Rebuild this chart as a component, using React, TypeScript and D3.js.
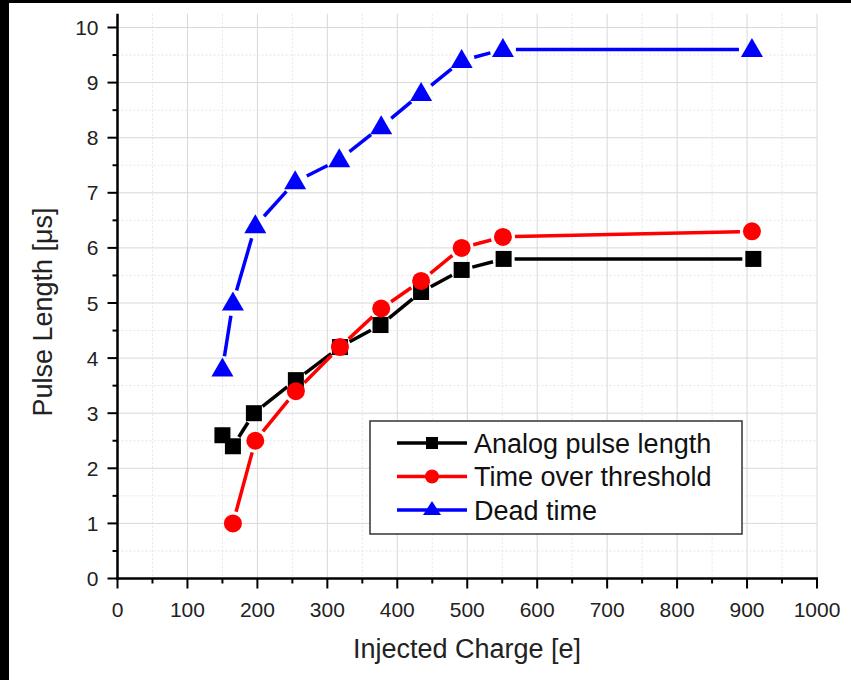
import { useEffect, useRef } from "react";
import * as d3 from "d3";

// data
const analogX = [150, 165, 195, 255, 318, 376, 434, 492, 552, 909];
const analogY = [2.6, 2.4, 3.0, 3.6, 4.2, 4.6, 5.2, 5.6, 5.8, 5.8];

const totX = [165, 197, 255, 318, 377, 434, 492, 551, 907];
const totY = [1.0, 2.5, 3.4, 4.2, 4.9, 5.4, 6.0, 6.2, 6.3];

const deadX = [150, 165, 197, 254, 317, 377, 434, 492, 551, 907];
const deadY = [3.8, 5.0, 6.4, 7.2, 7.6, 8.2, 8.8, 9.4, 9.6, 9.6];

const seriesNames = ["Analog pulse length", "Time over threshold", "Dead time"];
const seriesColors = ["#000000", "#ff0000", "#0000ff"];
const seriesShapes = ["square", "circle", "triangle"];

const xTicks = [0, 100, 200, 300, 400, 500, 600, 700, 800, 900, 1000];
const yTicks = [0, 1, 2, 3, 4, 5, 6, 7, 8, 9, 10];

const FONT = "'Liberation Sans', Arial, sans-serif";

export default function App() {
    const ref = useRef<SVGSVGElement>(null);

    useEffect(() => {
        const svg = d3.select(ref.current);
        svg.selectAll("*").remove();

        const x = d3.scaleLinear().domain([0, 1000]).range([117.5, 817]);
        const y = d3.scaleLinear().domain([0, 10]).range([578.5, 27.5]);
        const yTop = y(10.25);

        svg.append("rect").attr("width", 851).attr("height", 680).attr("fill", "#fff");
        // black frame strips from the scan
        svg.append("rect").attr("x", 0).attr("y", 0).attr("width", 9).attr("height", 680).attr("fill", "#000");
        svg.append("rect").attr("x", 0).attr("y", 0).attr("width", 851).attr("height", 3).attr("fill", "#000");

        const g = svg.append("g");

        // minor grid
        const xMinor = d3.range(50, 1000, 100);
        const yMinor = d3.range(0.5, 10.5, 1);
        g.selectAll(".xminor").data(xMinor).join("line")
            .attr("x1", d => x(d)).attr("x2", d => x(d))
            .attr("y1", yTop).attr("y2", y(0))
            .attr("stroke", "#e6e6e6").attr("stroke-dasharray", "2,2");
        g.selectAll(".yminor").data(yMinor).join("line")
            .attr("x1", x(0)).attr("x2", x(1000))
            .attr("y1", d => y(d)).attr("y2", d => y(d))
            .attr("stroke", "#e6e6e6").attr("stroke-dasharray", "2,2");

        // major grid
        g.selectAll(".xmajor").data(xTicks.slice(1)).join("line")
            .attr("x1", d => x(d)).attr("x2", d => x(d))
            .attr("y1", yTop).attr("y2", y(0))
            .attr("stroke", "#d8d8d8");
        g.selectAll(".ymajor").data(yTicks.slice(1)).join("line")
            .attr("x1", x(0)).attr("x2", x(1000))
            .attr("y1", d => y(d)).attr("y2", d => y(d))
            .attr("stroke", "#d8d8d8");

        // axes
        const axis = svg.append("g").attr("stroke", "#000");
        axis.append("line").attr("x1", x(0)).attr("x2", x(0)).attr("y1", yTop).attr("y2", y(0) + 1.5).attr("stroke-width", 2.5);
        axis.append("line").attr("x1", x(0) - 1.5).attr("x2", x(1000) + 1).attr("y1", y(0)).attr("y2", y(0)).attr("stroke-width", 2.5);

        axis.selectAll(".ytick").data(yTicks).join("line")
            .attr("x1", x(0) - 10).attr("x2", x(0)).attr("y1", d => y(d)).attr("y2", d => y(d)).attr("stroke-width", 2);
        axis.selectAll(".ytickm").data(yMinor).join("line")
            .attr("x1", x(0) - 5).attr("x2", x(0)).attr("y1", d => y(d)).attr("y2", d => y(d)).attr("stroke-width", 2);
        axis.selectAll(".xtick").data(xTicks).join("line")
            .attr("x1", d => x(d)).attr("x2", d => x(d)).attr("y1", y(0)).attr("y2", y(0) + 10).attr("stroke-width", 2);
        axis.selectAll(".xtickm").data(xMinor).join("line")
            .attr("x1", d => x(d)).attr("x2", d => x(d)).attr("y1", y(0)).attr("y2", y(0) + 5).attr("stroke-width", 2);

        const labels = svg.append("g").attr("font-family", FONT).attr("fill", "#222");
        labels.selectAll(".yl").data(yTicks).join("text")
            .attr("x", x(0) - 19).attr("y", d => y(d)).attr("dy", "0.36em")
            .attr("text-anchor", "end").attr("font-size", 21).text(d => d);
        labels.selectAll(".xl").data(xTicks).join("text")
            .attr("x", d => x(d)).attr("y", 617)
            .attr("text-anchor", "middle").attr("font-size", 21).text(d => d);

        labels.append("text").attr("x", 467).attr("y", 658)
            .attr("text-anchor", "middle").attr("font-size", 27).text("Injected Charge [e]");
        labels.append("text").attr("transform", "translate(52,312) rotate(-90)")
            .attr("text-anchor", "middle").attr("font-size", 27).text("Pulse Length [μs]");

        // marker drawing
        const marker = (sel: any, shape: string, color: string, cx: number, cy: number) => {
            if (shape === "square") {
                sel.append("rect").attr("x", cx - 8).attr("y", cy - 8).attr("width", 16).attr("height", 16).attr("fill", color);
            } else if (shape === "circle") {
                sel.append("circle").attr("cx", cx).attr("cy", cy).attr("r", 9).attr("fill", color);
            } else {
                sel.append("path").attr("d", `M${cx},${cy - 11.5}L${cx + 11},${cy + 7.5}L${cx - 11},${cy + 7.5}Z`).attr("fill", color);
            }
        };
        const gaps = [11, 12, 13];

        const allX = [analogX, totX, deadX];
        const allY = [analogY, totY, deadY];
        allX.forEach((xs, si) => {
            const color = seriesColors[si];
            const sg = svg.append("g");
            const pts = xs.map((v, i) => [x(v), y(allY[si][i])]);
            // line segments stop short of the symbols
            for (let i = 0; i < pts.length - 1; i++) {
                const [x1, y1] = pts[i];
                const [x2, y2] = pts[i + 1];
                const len = Math.hypot(x2 - x1, y2 - y1);
                const gap = gaps[si];
                if (len <= gap * 2) continue;
                const ux = (x2 - x1) / len, uy = (y2 - y1) / len;
                sg.append("line")
                    .attr("x1", x1 + ux * gap).attr("y1", y1 + uy * gap)
                    .attr("x2", x2 - ux * gap).attr("y2", y2 - uy * gap)
                    .attr("stroke", color).attr("stroke-width", 3.5);
            }
            pts.forEach(p => marker(sg, seriesShapes[si], color, p[0], p[1]));
        });

        // legend
        const lg = svg.append("g");
        lg.append("rect").attr("x", 370).attr("y", 421).attr("width", 372).attr("height", 113)
            .attr("fill", "#fff").attr("stroke", "#333").attr("stroke-width", 1.5);
        seriesNames.forEach((name, i) => {
            const ly = 443 + i * 33.5;
            lg.append("line").attr("x1", 397).attr("x2", 467).attr("y1", ly).attr("y2", ly)
                .attr("stroke", seriesColors[i]).attr("stroke-width", 3.5);
            const sub = lg.append("g");
            if (seriesShapes[i] === "square") {
                sub.append("rect").attr("x", 426).attr("y", ly - 6).attr("width", 12).attr("height", 12).attr("fill", seriesColors[i]);
            } else if (seriesShapes[i] === "circle") {
                sub.append("circle").attr("cx", 432).attr("cy", ly).attr("r", 7).attr("fill", seriesColors[i]);
            } else {
                sub.append("path").attr("d", `M432,${ly - 9}L441,${ly + 5}L423,${ly + 5}Z`).attr("fill", seriesColors[i]);
            }
            lg.append("text").attr("x", 474).attr("y", ly).attr("dy", "0.36em")
                .attr("font-family", FONT).attr("font-size", 27).attr("fill", "#111").text(name);
        });
    }, []);

    return (
        <svg ref={ref} width={851} height={680} style={{ position: "absolute", left: 0, top: 0 }}></svg>
    );
}
